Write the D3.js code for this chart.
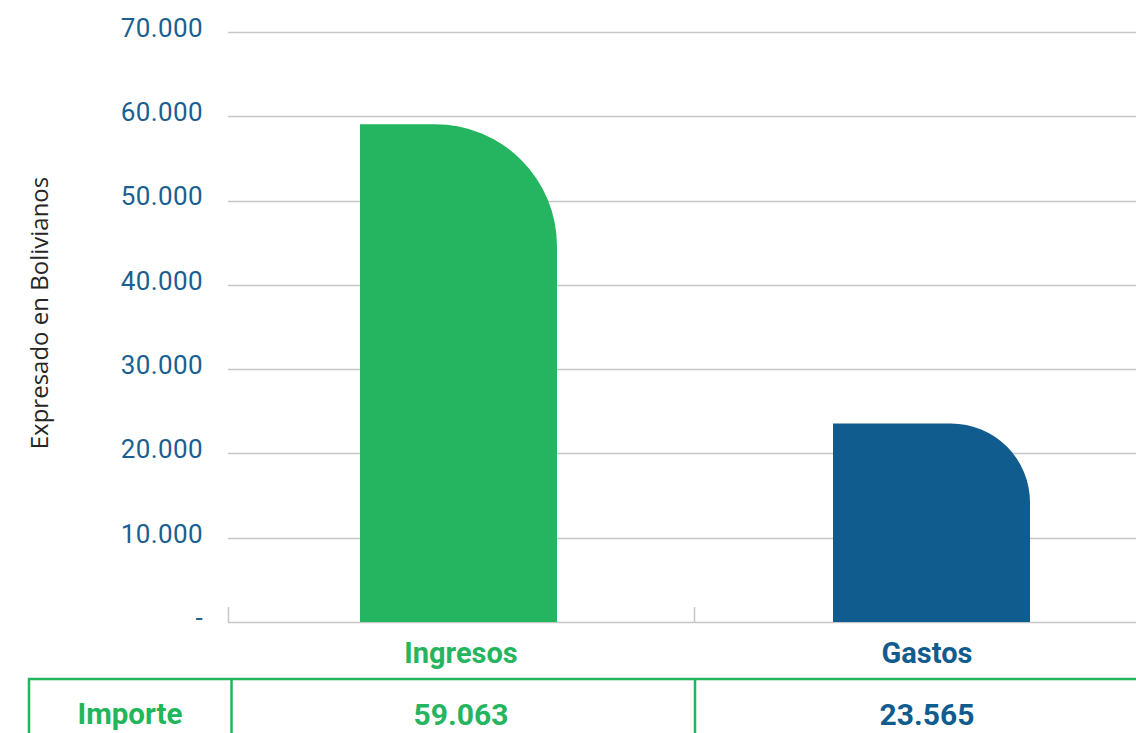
<!DOCTYPE html>
<html lang="es">
<head>
<meta charset="UTF-8">
<title>Ingresos y Gastos</title>
<script src="https://d3js.org/d3.v7.min.js"></script>
<style>
  html, body { margin: 0; padding: 0; background: #fff; }
  svg { display: block; }
</style>
</head>
<body>
<svg id="chart" width="1136" height="733"></svg>
<script>
// data
const categories = ["Ingresos", "Gastos"];
const values = [59063, 23565];
const yTicks = [0, 10000, 20000, 30000, 40000, 50000, 60000, 70000];
const rowLabel = "Importe";
const axisTitle = "Expresado en Bolivianos";

// styles
const colors = ["#25b45f", "#115c8e"];
const tableGreen = "#22b55a";
const tickBlue = "#1b5f92";
const cornerR = [122, 79];

const W = 1136, H = 733;
const svg = d3.select("#chart");

const fmt = v => v === 0 ? "-" : d3.format(",")(v).replace(/,/g, ".");

const y = d3.scaleLinear().domain([0, 70000]).range([622, 32]);
// slots for labels / table columns
const x = d3.scaleBand().domain(categories).range([228, 1160]).padding(0);
// bar placement
const xBar = d3.scaleBand().domain(categories).range([222, 1168]).padding(0);
const barW = xBar.bandwidth() * 0.4165;

// gridlines
svg.append("g").selectAll("line").data(yTicks).join("line")
  .attr("x1", 228).attr("x2", W)
  .attr("y1", d => Math.round(y(d)) + 0.5).attr("y2", d => Math.round(y(d)) + 0.5)
  .attr("stroke", "#c6c6c8").attr("stroke-width", 1.5);

// tick labels
svg.append("g").selectAll("text").data(yTicks).join("text")
  .attr("x", 203).attr("y", d => y(d) - 2)
  .attr("text-anchor", "end").attr("dominant-baseline", "middle")
  .attr("font-family", "Roboto, sans-serif").attr("font-size", 26)
  .attr("letter-spacing", 0.4)
  .attr("fill", tickBlue)
  .text(fmt);

// category separator ticks
svg.append("g").selectAll("line").data(categories).join("line")
  .attr("x1", d => x(d) + 0.5).attr("x2", d => x(d) + 0.5)
  .attr("y1", 607).attr("y2", 622)
  .attr("stroke", "#c6c6c8").attr("stroke-width", 1.5);

// bars with one rounded corner (top right)
function barPath(d, i) {
  const cx = xBar(categories[i]) + xBar.bandwidth() / 2;
  const x0 = cx - barW / 2, x1 = cx + barW / 2;
  const yt = y(d), yb = y(0);
  const r = Math.min(cornerR[i], barW, yb - yt);
  return `M${x0},${yb}L${x0},${yt}L${x1 - r},${yt}A${r},${r} 0 0 1 ${x1},${yt + r}L${x1},${yb}Z`;
}
svg.append("g").selectAll("path").data(values).join("path")
  .attr("d", barPath)
  .attr("fill", (d, i) => colors[i]);

// category labels
svg.append("g").selectAll("text").data(categories).join("text")
  .attr("x", d => x(d) + x.bandwidth() / 2).attr("y", 663)
  .attr("text-anchor", "middle")
  .attr("font-family", "Roboto, sans-serif").attr("font-weight", 700).attr("font-size", 29)
  .attr("fill", (d, i) => colors[i])
  .text(d => d);

// axis title
svg.append("text")
  .attr("transform", "translate(48,313) rotate(-90)")
  .attr("text-anchor", "middle")
  .attr("font-family", "'Open Sans', sans-serif").attr("font-size", 24)
  .attr("fill", "#262626")
  .text(axisTitle);

// table
const table = svg.append("g").attr("fill", "none").attr("stroke", tableGreen).attr("stroke-width", 2.5);
table.append("rect").attr("x", 29).attr("y", 679).attr("width", 1200).attr("height", 120);
table.append("line").attr("x1", 231.5).attr("x2", 231.5).attr("y1", 679).attr("y2", H);
table.selectAll("line.sep").data(categories.slice(1)).join("line").attr("class", "sep")
  .attr("x1", d => x(d) + 1).attr("x2", d => x(d) + 1).attr("y1", 679).attr("y2", H);

svg.append("text")
  .attr("x", 130).attr("y", 724).attr("text-anchor", "middle")
  .attr("font-family", "Roboto, sans-serif").attr("font-weight", 700).attr("font-size", 29.5)
  .attr("fill", tableGreen).text(rowLabel);

svg.append("g").selectAll("text").data(values).join("text")
  .attr("x", (d, i) => x(categories[i]) + x.bandwidth() / 2).attr("y", 725)
  .attr("text-anchor", "middle")
  .attr("font-family", "Roboto, sans-serif").attr("font-weight", 700).attr("font-size", 30)
  .attr("fill", (d, i) => colors[i])
  .text(fmt);
</script>
</body>
</html>
